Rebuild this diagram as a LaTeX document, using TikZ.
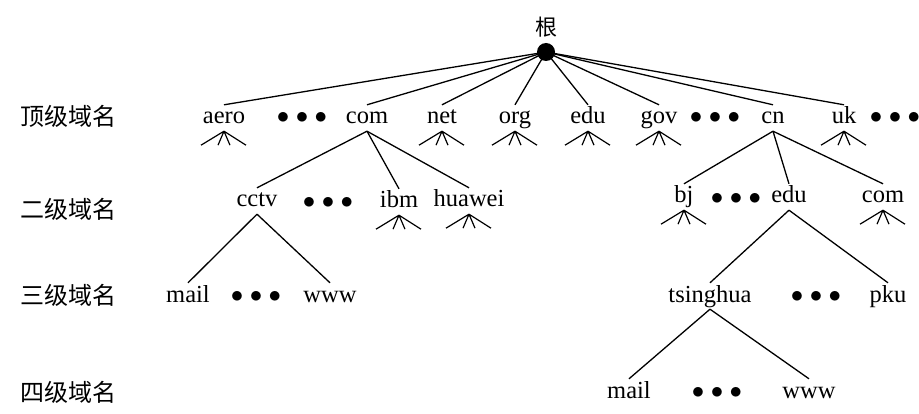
\documentclass[tikz,border=0pt]{standalone}
\usepackage{fontspec}
\setmainfont{Liberation Serif}
\newfontfamily\cjk{Noto Sans CJK SC}
\usepackage{tikz}
\usetikzlibrary{positioning}
\newcommand{\dotrow}{$\bullet$\hspace{6.5pt}$\bullet$\hspace{6.5pt}$\bullet$}

\begin{document}
\begin{tikzpicture}[
  x=1pt,y=-1pt,
  nm/.style={anchor=base,inner sep=1pt,text height=18pt,text depth=6pt,
    font=\fontsize{24.5}{29}\selectfont},
  more/.style={nm},
  lvl/.style={inner sep=0pt,font=\cjk\fontsize{24}{28}\selectfont},
  ln/.style={line width=1.3pt},
  fan/.style={line width=1.2pt}
]
\useasboundingbox (0,0) rectangle (919,414);
\node[lvl] (l1) at (68,116) {顶级域名};
\node[lvl] (l2) at (68,209) {二级域名};
\node[lvl] (l3) at (68,295) {三级域名};
\node[lvl] (l4) at (68,392) {四级域名};
\node[circle,fill,minimum size=18pt,inner sep=0pt] (root) at (546,52) {};
\node[inner sep=0pt,font=\cjk\fontsize{22}{26}\selectfont] (gen) at (546,27) {根};
\node[nm] (aero) at (224,124) {aero};
\node[more] (d1) at (302,124) {\dotrow};
\node[nm] (com) at (367,124) {com};
\node[nm] (net) at (442,124) {net};
\node[nm] (org) at (515,124) {org};
\node[nm] (edu) at (588,124) {edu};
\node[nm] (gov) at (659,124) {gov};
\node[more] (d2) at (715,124) {\dotrow};
\node[nm] (cn) at (773,124) {cn};
\node[nm] (uk) at (844,124) {uk};
\node[more] (d3) at (895,124) {\dotrow};
\node[nm] (cctv) at (257,207) {cctv};
\node[more] (d4) at (328,209) {\dotrow};
\node[nm] (ibm) at (399,208) {ibm};
\node[nm] (huawei) at (469,207) {huawei};
\node[nm] (bj) at (684,203) {bj};
\node[more] (d5) at (736,205) {\dotrow};
\node[nm] (edu2) at (789,203) {edu};
\node[nm] (com2) at (883,203) {com};
\node[nm] (mail) at (188,302) {mail};
\node[more] (d6) at (256,303) {\dotrow};
\node[nm] (www) at (330,302) {www};
\node[nm] (tsinghua) at (710,302) {tsinghua};
\node[more] (d7) at (816,303) {\dotrow};
\node[nm] (pku) at (888,302) {pku};
\node[nm] (mail2) at (629,398) {mail};
\node[more] (d8) at (717,398) {\dotrow};
\node[nm] (www2) at (809,398) {www};
\foreach \n in {aero,com,net,org,edu,gov,cn,uk}
  \draw[ln] (root.center) -- (\n.north);
\foreach \n in {aero,net,org,edu,gov,uk,ibm,huawei,bj,com2}
  \draw[fan] (\n.south) -- +(-23,14) (\n.south) -- +(-6,14)
    (\n.south) -- +(6,14) (\n.south) -- +(22,14);
\draw[ln] (com.south) -- (cctv.north);
\draw[ln] (com.south) -- (ibm.north);
\draw[ln] (com.south) -- (huawei.north);
\draw[ln] (cn.south) -- (bj.north);
\draw[ln] (cn.south) -- (edu2.north);
\draw[ln] (cn.south) -- (com2.north);
\draw[ln] (cctv.south) -- (mail.north);
\draw[ln] (cctv.south) -- (www.north);
\draw[ln] (edu2.south) -- (tsinghua.north);
\draw[ln] (edu2.south) -- (pku.north);
\draw[ln] (tsinghua.south) -- (mail2.north);
\draw[ln] (tsinghua.south) -- (www2.north);
\end{tikzpicture}
\end{document}
